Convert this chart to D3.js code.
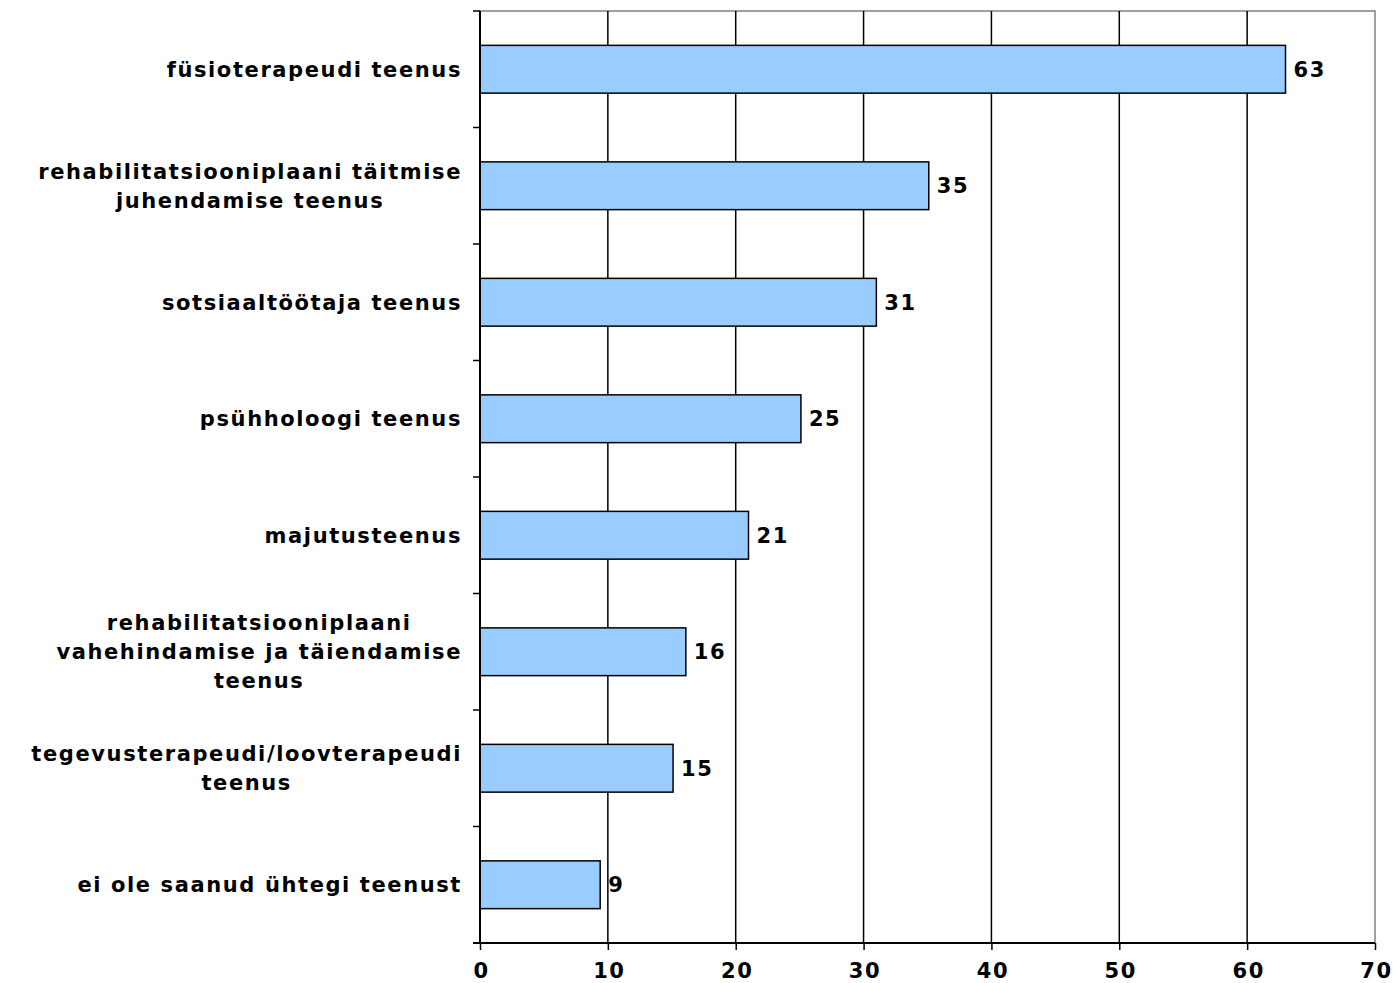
<!DOCTYPE html>
<html>
<head>
<meta charset="utf-8">
<script src="https://cdn.jsdelivr.net/npm/d3@7"></script>
<style>
    body { margin: 0; background: #fff; }
    svg text { font-family: "DejaVu Sans", Verdana, sans-serif; font-weight: bold; fill: #000; letter-spacing: 1.6px; }
</style>
</head>
<body>
<svg id="chart" width="1393" height="983"></svg>
<script>
// categories, top to bottom; "\n" marks the line breaks used in the picture
var categories = [
    "füsioterapeudi teenus",
    "rehabilitatsiooniplaani täitmise\njuhendamise teenus",
    "sotsiaaltöötaja teenus",
    "psühholoogi teenus",
    "majutusteenus",
    "rehabilitatsiooniplaani\nvahehindamise ja täiendamise\nteenus",
    "tegevusterapeudi/loovterapeudi\nteenus",
    "ei ole saanud ühtegi teenust"
];
var values = [63, 35.1, 31, 25.1, 21, 16.1, 15.1, 9.4];
var xTicks = [0, 10, 20, 30, 40, 50, 60, 70];

var data = categories.map(function(c, i) { return { name: c, value: values[i] }; });

var svg = d3.select("#chart"),
    margin = { top: 11, right: 18, bottom: 40, left: 480 },
    width = 1375 - margin.left,
    height = 943 - margin.top;

var fontSize = "21px";

var g = svg.append("g").attr("transform", "translate(" + margin.left + "," + margin.top + ")");

var x = d3.scaleLinear().domain([0, 70]).range([0, width]);
var y = d3.scaleBand().domain(categories).range([0, height]).paddingInner(0.59).paddingOuter(0.295);

// plot frame (grey top / right)
g.append("path")
    .attr("d", "M0,0H" + width + "V" + height)
    .attr("fill", "none")
    .attr("stroke", "#808080")
    .attr("stroke-width", 1.5);

// vertical grid
g.selectAll(".grid")
    .data(xTicks.slice(1, -1))
    .enter().append("line")
    .attr("class", "grid")
    .attr("x1", function(d) { return x(d); })
    .attr("x2", function(d) { return x(d); })
    .attr("y1", 0)
    .attr("y2", height)
    .attr("stroke", "#000")
    .attr("stroke-width", 1.5);

// bars
g.selectAll(".bar")
    .data(data)
    .enter().append("rect")
    .attr("class", "bar")
    .attr("x", x(0))
    .attr("y", function(d) { return y(d.name); })
    .attr("width", function(d) { return x(d.value) - x(0); })
    .attr("height", y.bandwidth())
    .attr("fill", "#99ccff")
    .attr("stroke", "#000")
    .attr("stroke-width", 1.5);

// value labels
g.selectAll(".label")
    .data(data)
    .enter().append("text")
    .attr("class", "label")
    .attr("x", function(d) { return x(d.value) + 8; })
    .attr("y", function(d) { return y(d.name) + y.bandwidth() / 2; })
    .attr("dy", "0.36em")
    .style("font-size", fontSize)
    .text(function(d) { return d3.format(".0f")(d.value); });

// x axis
var xAxis = g.append("g")
    .attr("transform", "translate(0," + height + ")")
    .call(d3.axisBottom(x).tickValues(xTicks).tickSize(7).tickPadding(13).tickSizeOuter(0));
xAxis.select(".domain").attr("stroke-width", 2).attr("d", "M-7,0H" + width);
xAxis.selectAll(".tick line").attr("stroke-width", 1.5);
xAxis.selectAll("text").style("font-size", fontSize).attr("font-family", null).attr("dx", "1px");

// y axis: ticks sit on band boundaries
var step = y.step(),
    bounds = d3.range(categories.length + 1).map(function(i) { return i * step; });
g.append("line")
    .attr("x1", 0).attr("x2", 0).attr("y1", 0).attr("y2", height)
    .attr("stroke", "#000").attr("stroke-width", 2);
g.selectAll(".ytick")
    .data(bounds)
    .enter().append("line")
    .attr("class", "ytick")
    .attr("x1", -7).attr("x2", 0)
    .attr("y1", function(d) { return d; })
    .attr("y2", function(d) { return d; })
    .attr("stroke", "#000").attr("stroke-width", 1.5);

// category labels, centred block right-aligned to axis
var lineH = 29;
var cat = g.selectAll(".cat")
    .data(data)
    .enter().append("text")
    .attr("class", "cat")
    .attr("text-anchor", "middle")
    .style("font-size", fontSize);

cat.each(function(d) {
    var lines = d.name.split("\n"),
        t = d3.select(this),
        cy = y(d.name) + y.bandwidth() / 2,
        y0 = cy - (lines.length - 1) * lineH / 2;
    lines.forEach(function(l, i) {
        t.append("tspan").attr("y", y0 + i * lineH).attr("dy", "0.36em").text(l);
    });
    // measure widest line, then centre the block so its right edge sits next to the axis
    var w = d3.max(t.selectAll("tspan").nodes(), function(n) { return n.getComputedTextLength(); });
    t.selectAll("tspan").attr("x", -18 - w / 2);
});
</script>
</body>
</html>
